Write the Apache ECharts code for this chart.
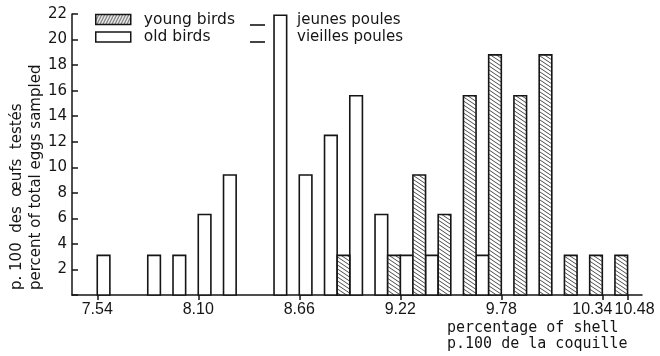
<!DOCTYPE html>
<html>
<head>
<meta charset="utf-8">
<script src="https://cdn.jsdelivr.net/npm/echarts@6/dist/echarts.min.js"></script>
<style>
  html, body { margin: 0; padding: 0; background: #fff; }
  #chart { width: 660px; height: 356px; }
</style>
</head>
<body>
<div id="chart"></div>
<script>
// Shell content classes (lower bound of each class, % of shell) and share of eggs (%)
const classWidth = 0.07;
const oldClassStart = [7.54, 7.82, 7.96, 8.10, 8.24, 8.52, 8.66, 8.80, 8.94, 9.08, 9.22, 9.36, 9.64];
const oldPercent    = [3.1, 3.1, 3.1, 6.3, 9.4, 21.9, 9.4, 12.5, 15.6, 6.3, 3.1, 3.1, 3.1];
const youngClassStart = [8.87, 9.15, 9.29, 9.43, 9.57, 9.71, 9.85, 9.99, 10.13, 10.27, 10.41];
const youngPercent    = [3.1, 3.1, 9.4, 6.3, 15.6, 18.8, 15.6, 18.8, 3.1, 3.1, 3.1];
const xTickValues = [7.54, 8.10, 8.66, 9.22, 9.78, 10.34, 10.48];

const INK = '#151515';
const FONT = 'DejaVu Sans';
const TICK_FONT = 'Liberation Sans';

// diagonal hatching used for the young-bird bars
function makeHatch(w, h, dir, width, color) {
  const c = document.createElement('canvas');
  c.width = w; c.height = h;
  const g = c.getContext('2d');
  g.fillStyle = '#fff';
  g.fillRect(0, 0, w, h);
  g.strokeStyle = color;
  g.lineWidth = width;
  for (let k = -1; k <= 1; k++) {
    g.beginPath();
    if (dir > 0) { // "\" lines
      g.moveTo(-w, k * h - h);
      g.lineTo(2 * w, k * h + 2 * h);
    } else {       // "/" lines
      g.moveTo(-w + k * w, 2 * h);
      g.lineTo(2 * w + k * w, -h);
    }
    g.stroke();
  }
  return c;
}
const barHatch = { image: makeHatch(6, 4, 1, 0.9, '#3a3a3a'), repeat: 'repeat' };
const keyHatch = { image: makeHatch(3, 6, -1, 1, '#333'), repeat: 'repeat' };

function pairs(starts, values) {
  return starts.map((s, i) => [s, values[i]]);
}

function histRect(fill) {
  return function (params, api) {
    const x0 = api.value(0);
    const v = api.value(1);
    const p0 = api.coord([x0, 0]);
    const p1 = api.coord([x0 + classWidth, v]);
    return {
      type: 'rect',
      shape: { x: p0[0], y: p1[1], width: p1[0] - p0[0], height: p0[1] - p1[1] },
      style: { fill: fill, stroke: INK, lineWidth: 1.6 }
    };
  };
}

const chart = echarts.init(document.getElementById('chart'), null, { renderer: 'canvas' });

chart.setOption({
  animation: false,
  backgroundColor: '#fff',
  grid: { left: 72, right: 18, top: 14, bottom: 61 },
  xAxis: {
    type: 'value',
    min: 7.40,
    max: 10.56,
    splitLine: { show: false },
    axisLine: { show: true, onZero: false, lineStyle: { color: INK, width: 1.5 } },
    axisTick: { show: true, length: 5, customValues: xTickValues, lineStyle: { color: INK, width: 1.5 } },
    axisLabel: {
      customValues: xTickValues,
      hideOverlap: false,
      showMinLabel: true,
      showMaxLabel: true,
      margin: 7,
      color: INK,
      fontFamily: TICK_FONT,
      fontSize: 16,
      formatter: function (v) {
        const s = v.toFixed(2);
        if (s === '10.34') return '{l|' + s + '}';
        if (s === '10.48') return '{r|' + s + '}';
        return s;
      },
      rich: {
        l: { padding: [0, 20, 0, 0], fontFamily: TICK_FONT, fontSize: 16, color: INK },
        r: { padding: [0, 0, 0, 14], fontFamily: TICK_FONT, fontSize: 16, color: INK }
      }
    }
  },
  yAxis: {
    type: 'value',
    min: 0,
    max: 22,
    interval: 2,
    splitLine: { show: false },
    axisLine: { show: true, lineStyle: { color: INK, width: 1.5 } },
    axisTick: { show: true, inside: true, length: 6, lineStyle: { color: INK, width: 1.5 } },
    axisLabel: {
      margin: 5,
      color: INK,
      fontFamily: FONT,
      fontSize: 15,
      padding: [0, 0, 6, 0],
      formatter: function (v) { return v === 0 ? '' : String(v); }
    }
  },
  legend: {
    left: 95,
    top: 11.5,
    padding: 0,
    orient: 'vertical',
    itemWidth: 35,
    itemHeight: 10,
    itemGap: 1.5,
    selectedMode: false,
    formatter: function (name) { return '{t|' + name + '}'; },
    textStyle: {
      color: INK,
      fontFamily: FONT,
      fontSize: 15.5,
      lineHeight: 16,
      rich: { t: { padding: [0, 0, 0, 8], fontFamily: FONT, fontSize: 15.5, color: INK, lineHeight: 16 } }
    },
    data: [
      { name: 'young birds', icon: 'rect', itemStyle: { color: keyHatch, borderColor: INK, borderWidth: 1.5 } },
      { name: 'old birds', icon: 'rect', itemStyle: { color: '#fff', borderColor: INK, borderWidth: 1.5 } }
    ]
  },
  graphic: [
    { type: 'line', shape: { x1: 250, y1: 25, x2: 265, y2: 25 }, style: { stroke: INK, lineWidth: 1.6 } },
    { type: 'line', shape: { x1: 250, y1: 42, x2: 265, y2: 42 }, style: { stroke: INK, lineWidth: 1.6 } },
    { type: 'text', x: 297, y: 20, style: { text: 'jeunes poules', font: '15px "DejaVu Sans"', fill: INK, verticalAlign: 'middle' } },
    { type: 'text', x: 297, y: 37, style: { text: 'vieilles poules', font: '15px "DejaVu Sans"', fill: INK, verticalAlign: 'middle' } },
    { type: 'text', x: 17, y: 290, rotation: Math.PI / 2, style: { text: 'p. 100  des  œufs  testés', font: '15px "DejaVu Sans"', fill: INK, align: 'left', verticalAlign: 'middle' } },
    { type: 'text', x: 36, y: 290, rotation: Math.PI / 2, style: { text: 'percent of total eggs sampled', font: '15px "DejaVu Sans"', fill: INK, align: 'left', verticalAlign: 'middle' } },
    { type: 'text', x: 447, y: 328, style: { text: 'percentage of shell', font: '15px "DejaVu Sans Mono"', fill: INK, verticalAlign: 'middle' } },
    { type: 'text', x: 447, y: 344, style: { text: 'p.100 de la coquille', font: '15px "DejaVu Sans Mono"', fill: INK, verticalAlign: 'middle' } }
  ],
  series: [
    {
      name: 'old birds',
      type: 'custom',
      itemStyle: { color: '#fff', borderColor: INK, borderWidth: 1.5 },
      renderItem: histRect('#fff'),
      encode: { x: 0, y: 1 },
      data: pairs(oldClassStart, oldPercent)
    },
    {
      name: 'young birds',
      type: 'custom',
      itemStyle: { color: keyHatch, borderColor: INK, borderWidth: 1.5 },
      renderItem: histRect(barHatch),
      encode: { x: 0, y: 1 },
      data: pairs(youngClassStart, youngPercent)
    }
  ]
});
</script>
</body>
</html>
